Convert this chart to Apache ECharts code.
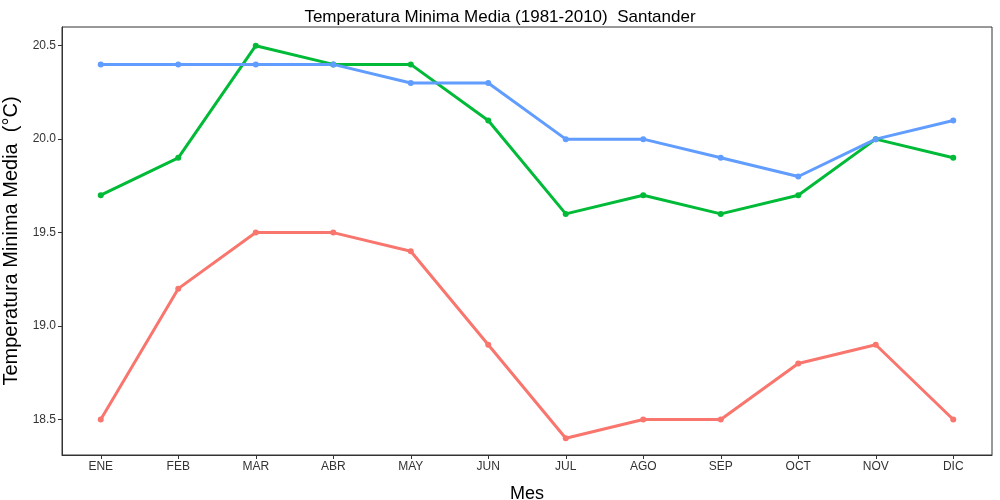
<!DOCTYPE html>
<html>
<head>
<meta charset="utf-8">
<script src="https://cdn.jsdelivr.net/npm/echarts@6/dist/echarts.min.js"></script>
<style>html,body{margin:0;background:#fff}#c{width:1000px;height:500px}</style>
</head>
<body>
<div id="c"></div>
<script>
var months = ['ENE','FEB','MAR','ABR','MAY','JUN','JUL','AGO','SEP','OCT','NOV','DIC'];
var blueVals = [20.4,20.4,20.4,20.4,20.3,20.3,20.0,20.0,19.9,19.8,20.0,20.1];
var greenVals = [19.7,19.9,20.5,20.4,20.4,20.1,19.6,19.7,19.6,19.7,20.0,19.9];
var redVals = [18.5,19.2,19.5,19.5,19.4,18.9,18.4,18.5,18.5,18.8,18.9,18.5];
var yTicks = [18.5,19.0,19.5,20.0,20.5];

function mk(data, color) {
    return {
        type: 'line', data: data, symbol: 'circle', symbolSize: 6,
        lineStyle: {color: color, width: 3}, itemStyle: {color: color}
    };
}

var chart = echarts.init(document.getElementById('c'));
chart.setOption({
    animation: false,
    title: {
        text: 'Temperatura Minima Media (1981-2010)  Santander', left: 'center', top: 4,
        textStyle: {fontFamily: 'Arial, Liberation Sans', fontSize: 17, fontWeight: 'normal', color: '#000'}
    },
    grid: {left: 62, right: 8, top: 27, bottom: 45, containLabel: false, outerBoundsMode: 'none',
        show: true, borderColor: '#333', borderWidth: 1},
    xAxis: {
        type: 'category', data: months, name: 'Mes', nameLocation: 'middle', nameGap: 30,
        nameTextStyle: {fontFamily: 'Arial, Liberation Sans', fontSize: 18, color: '#000'},
        axisLine: {show: true, lineStyle: {color: '#333'}},
        axisTick: {show: true, alignWithLabel: true, length: 4, lineStyle: {color: '#333'}},
        axisLabel: {color: '#333', fontSize: 12, fontFamily: 'Arial, Liberation Sans', margin: 6}
    },
    yAxis: {
        type: 'value', min: 18.31, max: 20.6, name: 'Temperatura Minima Media  (°C)',
        nameLocation: 'middle', nameGap: 36,
        nameTextStyle: {fontFamily: 'Arial, Liberation Sans', fontSize: 20, color: '#000'},
        splitLine: {show: false}, axisLine: {show: true, lineStyle: {color: '#333'}},
        axisTick: {show: true, length: 4, customValues: yTicks, lineStyle: {color: '#333'}},
        axisLabel: {color: '#333', fontSize: 12, fontFamily: 'Arial, Liberation Sans', margin: 6,
            customValues: yTicks, formatter: function (v) { return v.toFixed(1); }}
    },
    series: [mk(redVals, '#F8766D'), mk(greenVals, '#00BA38'), mk(blueVals, '#619CFF')]
});
</script>
</body>
</html>
